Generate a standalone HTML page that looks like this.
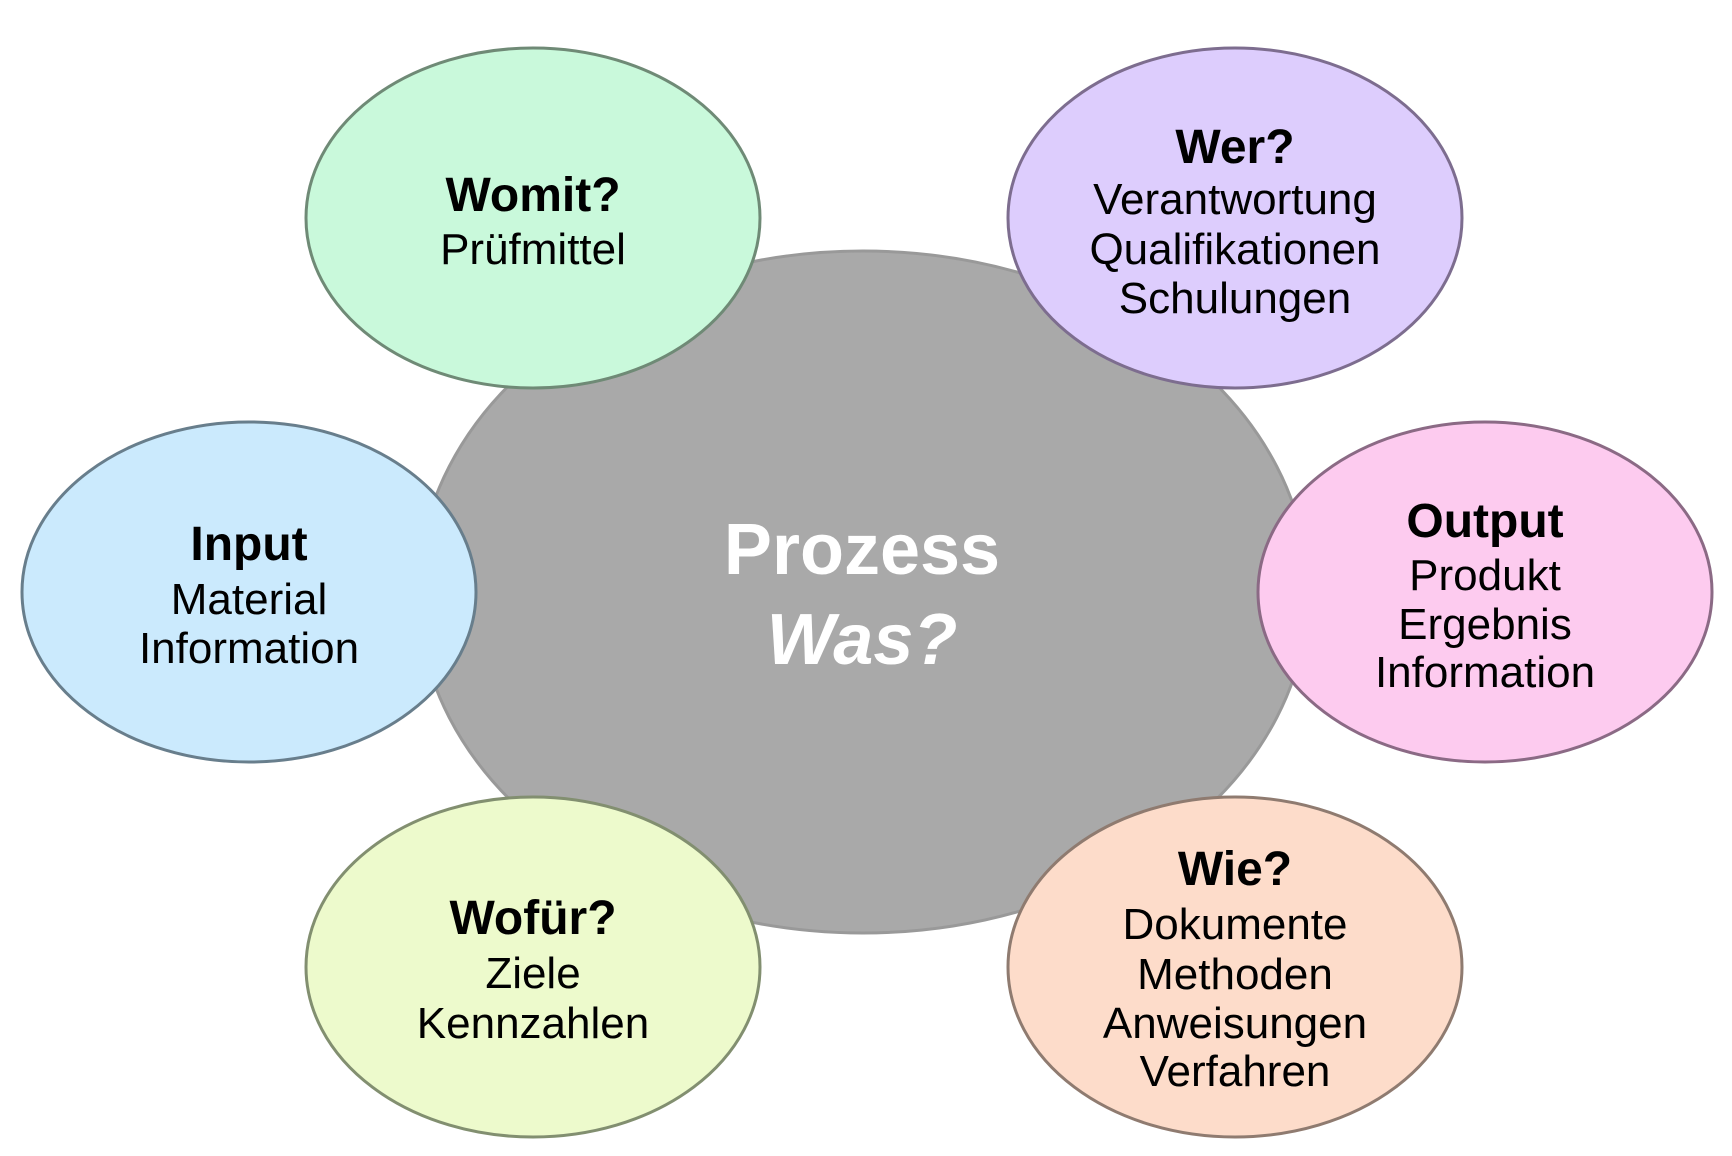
<!DOCTYPE html>
<html><head><meta charset="utf-8"><style>html,body{margin:0;padding:0;background:#fff}svg{display:block}</style></head>
<body>
<svg width="1732" height="1156" viewBox="0 0 1732 1156" xmlns="http://www.w3.org/2000/svg" font-family="Liberation Sans, Arial, sans-serif" text-anchor="middle">
<ellipse cx="863" cy="592" rx="445" ry="341" fill="#a9a9a9" stroke="#999" stroke-width="3"/>
<ellipse cx="533" cy="218" rx="227" ry="170" fill="#c9f9db" stroke="#6f8a76" stroke-width="3"/>
<ellipse cx="1235" cy="218" rx="227" ry="170" fill="#ddcdfd" stroke="#7d6d8f" stroke-width="3"/>
<ellipse cx="249" cy="592" rx="227" ry="170" fill="#cbeafd" stroke="#687e8c" stroke-width="3"/>
<ellipse cx="1485" cy="592" rx="227" ry="170" fill="#fdcbef" stroke="#8b6a85" stroke-width="3"/>
<ellipse cx="533" cy="967" rx="227" ry="170" fill="#edfacc" stroke="#828f70" stroke-width="3"/>
<ellipse cx="1235" cy="967" rx="227" ry="170" fill="#fddcca" stroke="#8f7b70" stroke-width="3"/>
<g font-size="72" font-weight="bold" fill="#fff">
<text x="862" y="574">Prozess</text>
<text x="862" y="664" font-style="italic">Was?</text>
</g>
<g font-size="44" fill="#000">
<text x="533" y="211" font-size="48" font-weight="bold">Womit?</text>
<text x="533" y="264">Prüfmittel</text>
<text x="1235" y="163" font-size="48" font-weight="bold">Wer?</text>
<text x="1235" y="214">Verantwortung</text>
<text x="1235" y="264">Qualifikationen</text>
<text x="1235" y="313">Schulungen</text>
<text x="249" y="560" font-size="48" font-weight="bold">Input</text>
<text x="249" y="614">Material</text>
<text x="249" y="663">Information</text>
<text x="1485" y="537" font-size="48" font-weight="bold">Output</text>
<text x="1485" y="590">Produkt</text>
<text x="1485" y="639">Ergebnis</text>
<text x="1485" y="687">Information</text>
<text x="533" y="934" font-size="48" font-weight="bold">Wofür?</text>
<text x="533" y="988">Ziele</text>
<text x="533" y="1038">Kennzahlen</text>
<text x="1235" y="885" font-size="48" font-weight="bold">Wie?</text>
<text x="1235" y="939">Dokumente</text>
<text x="1235" y="989">Methoden</text>
<text x="1235" y="1038">Anweisungen</text>
<text x="1235" y="1086">Verfahren</text>
</g>
</svg>
</body></html>
